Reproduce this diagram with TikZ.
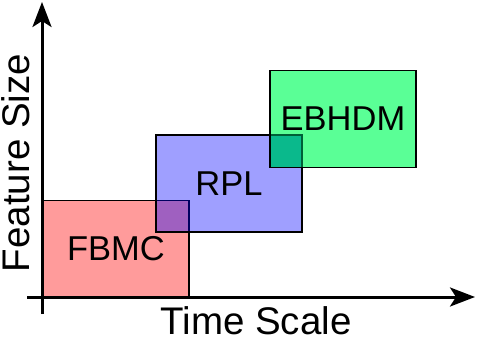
\documentclass[tikz,border=0pt]{standalone}
\usepackage{fontspec}
\setmainfont{Liberation Sans}
\usetikzlibrary{arrows.meta}
\definecolor{redc}{RGB}{255,155,155}
\definecolor{bluec}{RGB}{0,0,255}
\definecolor{greenc}{RGB}{90,255,150}
\definecolor{tealc}{RGB}{10,185,140}
\definecolor{dgreen}{RGB}{0,95,55}
\tikzset{
  box/.style={draw=black, line width=1.6pt, rectangle, minimum width=146pt, minimum height=97pt, outer sep=0pt, inner sep=0pt, font=\fontsize{34.5}{34.5}\selectfont},
  axis/.style={line width=3pt, -{Stealth[length=25pt,width=19pt,inset=6pt]}},
  axlabel/.style={font=\fontsize{38.5}{38.5}\selectfont, inner sep=0pt, anchor=base, text depth=0pt}
}
\begin{document}
\begin{tikzpicture}[x=1pt,y=-1pt]
\useasboundingbox (0,0) rectangle (484,337);
% boxes
\node[box, fill=redc] (fbmc) at (116,249) {FBMC};
\node[box, fill=bluec, fill opacity=0.375, text opacity=1] (rpl) at (229,183.5) {RPL};
\node[box, fill=greenc] (ebhdm) at (343,119) {EBHDM};
\fill[tealc] (ebhdm.south west) rectangle (rpl.north east);
\draw[dgreen, line width=1.6pt] (ebhdm.west |- rpl.north) -| (rpl.east |- ebhdm.south);
\draw[line width=1.6pt] (ebhdm.south west) rectangle (ebhdm.north east);
% axes
\coordinate (yb) at (42,314);
\coordinate (yt) at (42,2);
\coordinate (xb) at (27,297);
\coordinate (xt) at (475,297);
\draw[axis] (yb) -- (yt);
\draw[axis] (xb) -- (xt);
% labels
\node[axlabel] (tl) at (256,334) {Time Scale};
\node[axlabel, rotate=90] (fl) at (29.5,163) {Feature Size};
\end{tikzpicture}
\end{document}
